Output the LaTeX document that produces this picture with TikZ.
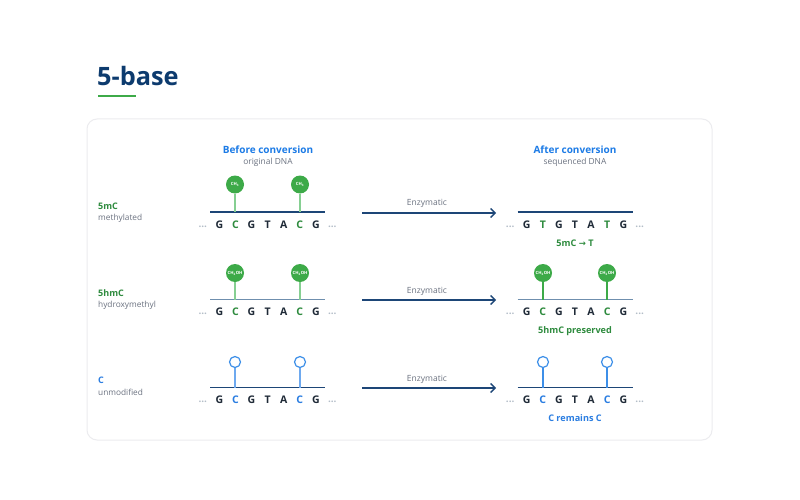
\documentclass[tikz,border=0pt]{standalone}
\usepackage{fontspec}
\setmainfont{Open Sans}
\newfontfamily\symfnt{DejaVu Sans}
\usetikzlibrary{arrows.meta}
\definecolor{navy}{HTML}{0D3B6E}
\definecolor{headblue}{HTML}{1C7BE6}
\definecolor{subgray}{HTML}{6B7280}
\definecolor{labgreen}{HTML}{2E8B3E}
\definecolor{modgreen}{HTML}{3DAA48}
\definecolor{stemgreen}{HTML}{86CF92}
\definecolor{linenavy}{HTML}{1D4677}
\definecolor{linegray}{HTML}{6F8FAE}
\definecolor{cblue}{HTML}{2A7DE1}
\definecolor{ringblue}{HTML}{3D8FE8}
\definecolor{stemblue}{HTML}{6EA9EF}
\definecolor{ink}{HTML}{1F2A37}
\definecolor{cardline}{HTML}{ECECEF}
\definecolor{dotgray}{HTML}{B3BDC8}
\definecolor{arrownavy}{HTML}{1D4677}
\tikzset{
  base/.style={font=\fontsize{10.5}{10.5}\selectfont\bfseries, inner sep=0pt},
  dotsnode/.style={font=\fontsize{10}{10}\selectfont\bfseries, text=dotgray, inner sep=0pt},
  modfill/.style={circle, fill=modgreen, minimum size=18pt, inner sep=0pt, text=white, font=\fontsize{4.3}{4.3}\selectfont\bfseries},
  modring/.style={circle, draw=ringblue, fill=white, line width=1.2pt, minimum size=11pt, inner sep=0pt},
  heading/.style={font=\fontsize{10}{10}\selectfont\bfseries, text=headblue, inner sep=0pt},
  subhead/.style={font=\fontsize{8.4}{8.4}\selectfont, text=subgray, inner sep=0pt},
  rowlab/.style={anchor=west, font=\fontsize{9}{9}\selectfont\bfseries, inner sep=0pt},
  rowsub/.style={anchor=west, font=\fontsize{8.3}{8.3}\selectfont, text=subgray, inner sep=0pt},
  convarrow/.style={draw=arrownavy, line width=1.4pt, -{Straight Barb[length=4.5pt, width=9pt, line width=1.4pt]}},
  arrowlab/.style={font=\fontsize{8.5}{8.5}\selectfont, text=subgray, inner sep=0pt},
  result/.style={font=\fontsize{9.1}{9.1}\selectfont\bfseries, inner sep=0pt},
  stemline/.style={line width=2pt},
}
\newcommand\dnaline[4]{%
  \coordinate (#1-l) at (#2-9,#3);
  \coordinate (#1-r) at (#2+106,#3);
  \draw[line width=1.8pt, #4] (#1-l) -- (#1-r);
  \node[dotsnode] (#1-dl) at (#2-16.5,#3+14.5) {...};
  \node[dotsnode] (#1-dr) at (#2+113,#3+14.5) {...};
}
\newcommand\dnaletters[4]{% name, x0, y, list
  \foreach \ch/\col [count=\i from 0] in {#4}
    \node[base, text=\col] (#1-\i) at ({#2+\i*16.1},#3+12.5) {\ch};
}
\begin{document}
\begin{tikzpicture}[x=1pt,y=-1pt]
\useasboundingbox (0,0) rectangle (800,500);
\fill[white] (0,0) rectangle (800,500);

% title
\node[anchor=base west, font=\fontsize{25.3}{25.3}\selectfont\bfseries, text=navy, inner sep=0pt] (title) at (97,86) {5-base};
\coordinate (ul1) at (98,96); \coordinate (ul2) at (136,96);
\draw[modgreen, line width=2.5pt] (ul1) -- (ul2);

% card
\draw[cardline, line width=1pt, rounded corners=10pt] (87,119) rectangle (712,440);

% headings
\node[heading] (before) at (268,150) {Before conversion};
\node[subhead] (orig) at (268,162) {original DNA};
\node[heading] (after) at (575,150) {After conversion};
\node[subhead] (seq) at (575,162) {sequenced DNA};

% row labels
\node[rowlab, text=labgreen] (lab1) at (98,206) {5mC};
\node[rowsub] (sub1) at (98,218) {methylated};
\node[rowlab, text=labgreen] (lab2) at (98,293) {5hmC};
\node[rowsub] (sub2) at (98,305) {hydroxymethyl};
\node[rowlab, text=cblue] (lab3) at (98,380) {C};
\node[rowsub] (sub3) at (98,392) {unmodified};

% ===== Row 1 =====
\node[modfill] (m1a) at (235,184.5) {CH\textsubscript{3}};
\node[modfill] (m1b) at (300,184.5) {CH\textsubscript{3}};
\dnaline{s1l}{219.3}{212}{linenavy}
\draw[stemgreen, stemline] (m1a.south) -- (m1a.south |- s1l-l);
\draw[stemgreen, stemline] (m1b.south) -- (m1b.south |- s1l-l);
\dnaletters{s1l}{219.3}{212}{G/ink,C/labgreen,G/ink,T/ink,A/ink,C/labgreen,G/ink}

\coordinate (a1s) at (362,213); \coordinate (a1e) at (496,213);
\draw[convarrow] (a1s) -- (a1e);
\node[arrowlab] (e1) at (427,203.5) {Enzymatic};

\dnaline{s1r}{526.7}{212}{linenavy}
\dnaletters{s1r}{526.7}{212}{G/ink,T/labgreen,G/ink,T/ink,A/ink,T/labgreen,G/ink}
\node[result, text=labgreen] (r1) at (575,243) {5mC {\symfnt\fontsize{8.5}{8.5}\selectfont →} T};

% ===== Row 2 =====
\node[modfill] (m2a) at (235,273) {CH\textsubscript{2}OH};
\node[modfill] (m2b) at (300,273) {CH\textsubscript{2}OH};
\dnaline{s2l}{219.3}{299.5}{linegray}
\draw[stemgreen, stemline] (m2a.south) -- (m2a.south |- s2l-l);
\draw[stemgreen, stemline] (m2b.south) -- (m2b.south |- s2l-l);
\dnaletters{s2l}{219.3}{299.5}{G/ink,C/labgreen,G/ink,T/ink,A/ink,C/labgreen,G/ink}

\coordinate (a2s) at (362,300); \coordinate (a2e) at (496,300);
\draw[convarrow] (a2s) -- (a2e);
\node[arrowlab] (e2) at (427,291) {Enzymatic};

\node[modfill] (m3a) at (543,273) {CH\textsubscript{2}OH};
\node[modfill] (m3b) at (607,273) {CH\textsubscript{2}OH};
\dnaline{s2r}{526.7}{299.5}{linegray}
\draw[modgreen, stemline] (m3a.south) -- (m3a.south |- s2r-l);
\draw[modgreen, stemline] (m3b.south) -- (m3b.south |- s2r-l);
\dnaletters{s2r}{526.7}{299.5}{G/ink,C/labgreen,G/ink,T/ink,A/ink,C/labgreen,G/ink}
\node[result, text=labgreen] (r2) at (575,331) {5hmC preserved};

% ===== Row 3 =====
\node[modring] (c3a) at (235,362) {};
\node[modring] (c3b) at (300,362) {};
\dnaline{s3l}{219.3}{387.5}{linenavy}
\draw[stemblue, stemline] (c3a.south) -- (c3a.south |- s3l-l);
\draw[stemblue, stemline] (c3b.south) -- (c3b.south |- s3l-l);
\dnaletters{s3l}{219.3}{387.5}{G/ink,C/cblue,G/ink,T/ink,A/ink,C/cblue,G/ink}

\coordinate (a3s) at (362,388); \coordinate (a3e) at (496,388);
\draw[convarrow] (a3s) -- (a3e);
\node[arrowlab] (e3) at (427,379) {Enzymatic};

\node[modring] (c4a) at (543,362) {};
\node[modring] (c4b) at (607,362) {};
\dnaline{s3r}{526.7}{387.5}{linenavy}
\draw[ringblue, stemline] (c4a.south) -- (c4a.south |- s3r-l);
\draw[ringblue, stemline] (c4b.south) -- (c4b.south |- s3r-l);
\dnaletters{s3r}{526.7}{387.5}{G/ink,C/cblue,G/ink,T/ink,A/ink,C/cblue,G/ink}
\node[result, text=cblue] (r3) at (575,418) {C remains C};
\end{tikzpicture}
\end{document}
